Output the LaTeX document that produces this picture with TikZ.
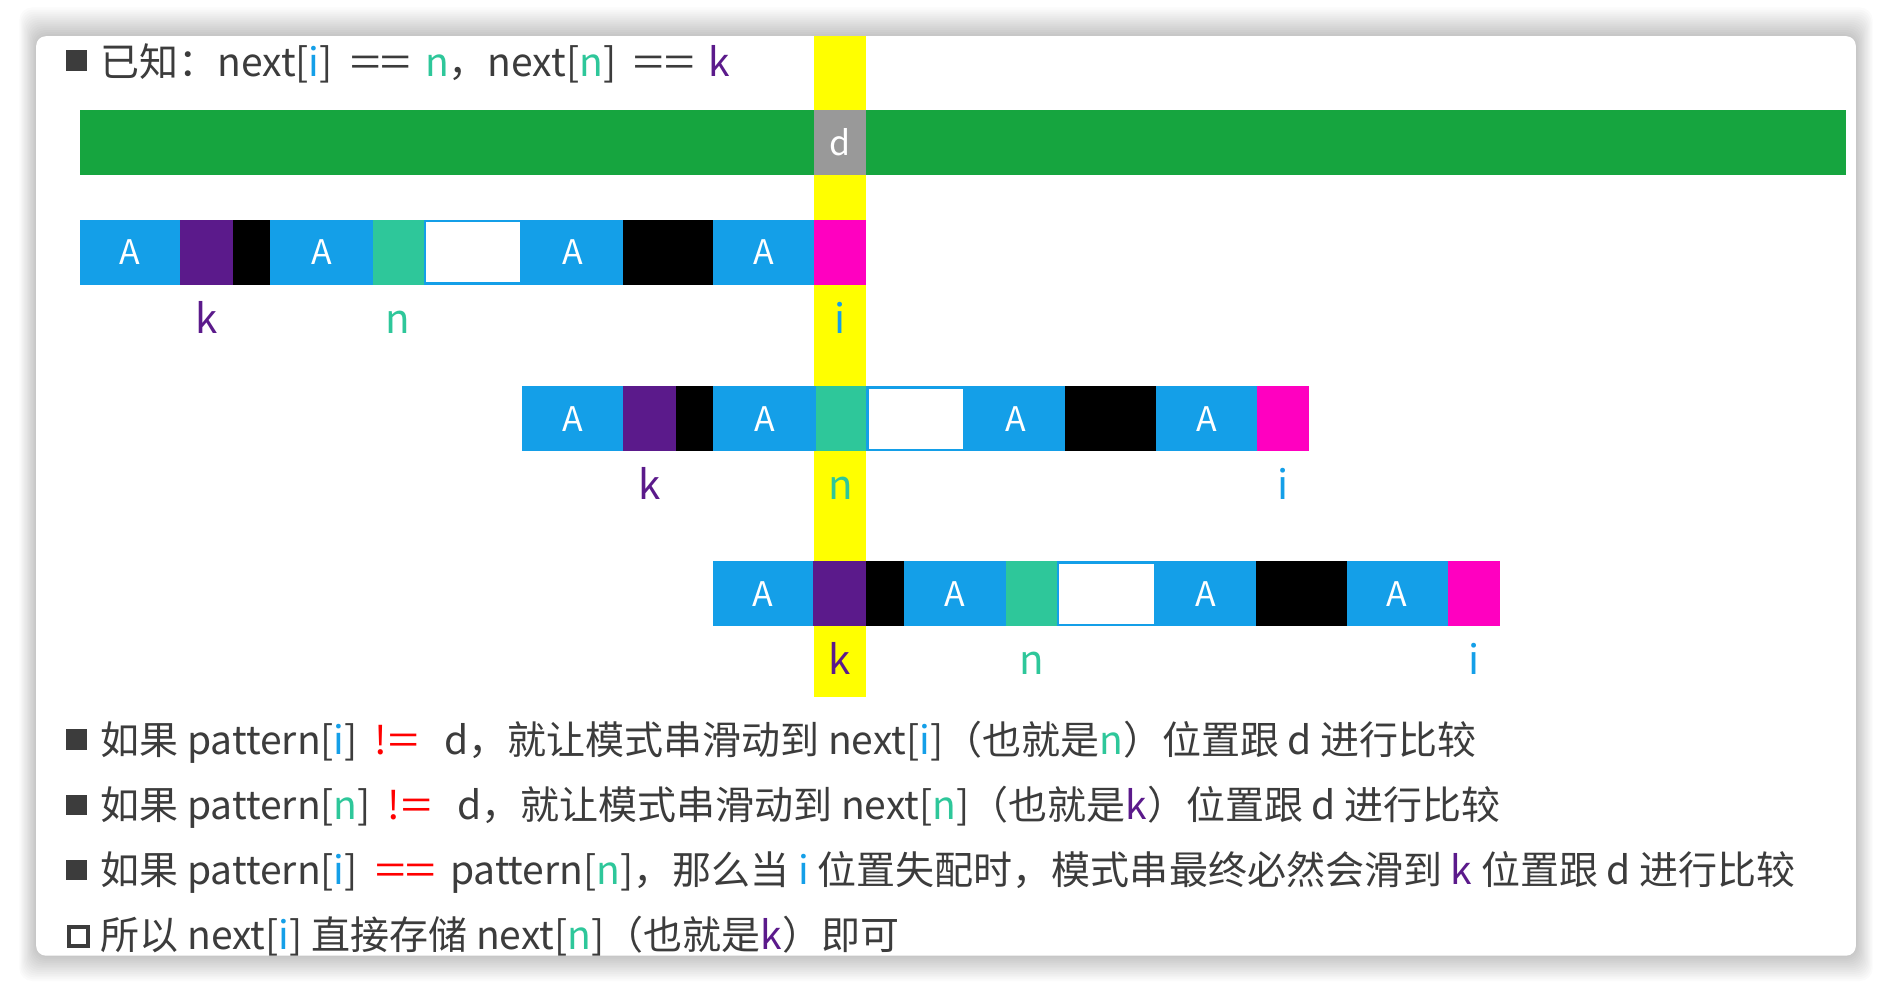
\documentclass[tikz,border=0pt]{standalone}
\usepackage{fontspec}
\setmainfont{Noto Sans CJK SC}

\definecolor{barGreen}{HTML}{16A53F}
\definecolor{cellBlue}{HTML}{149FE8}
\definecolor{cellPurple}{HTML}{5B1A8B}
\definecolor{cellTeal}{HTML}{2EC79A}
\definecolor{cellPink}{HTML}{FF00C0}
\definecolor{cellGray}{HTML}{999999}
\definecolor{hlYellow}{HTML}{FFFF00}
\definecolor{txtGray}{HTML}{3C3C3C}
\definecolor{opRed}{HTML}{FF0000}

\newcommand{\colI}{\textcolor{cellBlue}{i}}
\newcommand{\colN}{\textcolor{cellTeal}{n}}
\newcommand{\colK}{\textcolor{cellPurple}{k}}
\newcommand{\eqsign}{\scalebox{1.4}[1]{=}}
\newcommand{\opEq}{\hspace{0.45em}\eqsign\eqsign\hspace{0.36em}}
\newcommand{\opNe}{\hspace{0.42em}!\kern0.04em\eqsign\hspace{0.65em}}

\tikzset{
  cellA/.style={text=white, inner sep=0pt, font=\fontsize{16}{16}\selectfont},
  posLabel/.style={anchor=base, inner sep=0pt, font=\fontsize{19}{19}\selectfont},
  textline/.style={anchor=base west, inner sep=0pt, text=txtGray, font=\fontsize{18.4}{20}\selectfont},
  bulletbox/.style={fill=txtGray, minimum size=0.34cm, inner sep=0pt},
}

\begin{document}
\begin{tikzpicture}[x=0.02cm, y=-0.02cm]
\useasboundingbox (0,0) rectangle (1568,822);
\fill[white] (0,0) rectangle (1568,822);

% card with soft shadow
\foreach \s in {1,...,14}
  \fill[black, opacity=0.016, rounded corners=6pt] ({30-\s},{30-1.7*\s}) rectangle ({1538+\s},{792+1.5*\s});
\fill[white, rounded corners=4.5pt] (30,30) rectangle (1538,792);

% highlight column
\fill[hlYellow] (675,30) rectangle (718,578);

% main string
\fill[barGreen] (66,91) rectangle (1530,145);
\fill[cellGray] (675,91) rectangle (718,145);
\node[cellA] (d) at (696.5,118) {d};

% title
\node[bulletbox] (tb) at (63.5,50) {};
\node[textline] (title) at (83,63) {已知：next[\colI]\opEq\colN，next[\colN]\opEq\colK};

% pattern rows
\foreach \row/\dx/\yy in {1/0/182, 2/367/320, 3/525/465} {
  \foreach \a/\b/\c in {0/83/cellBlue, 83/127/cellPurple, 127/158/black, 158/243/cellBlue,
      243/285/cellTeal, 285/367/cellBlue, 367/450/cellBlue, 450/525/black,
      525/609/cellBlue, 609/652/cellPink}
    \fill[\c] ({66+\dx+\a},\yy) rectangle ({66+\dx+\b},{\yy+54});
  \fill[white] ({66+\dx+287},{\yy+2}) rectangle ({66+\dx+365},{\yy+52});
  \foreach \p [count=\j] in {41.5,200.5,408.5,567}
    \node[cellA] (A\row-\j) at ({66+\dx+\p},{\yy+27}) {A};
  \node[posLabel, text=cellPurple] (k\row) at ({66+\dx+105},{\yy+94}) {k};
  \node[posLabel, text=cellTeal] (n\row) at ({66+\dx+264},{\yy+94}) {n};
  \node[posLabel, text=cellBlue] (i\row) at ({66+\dx+630.5},{\yy+94}) {i};
}

% explanation
\node[bulletbox] (b1) at (63.5,613) {};
\node[textline] (l1) at (83,625) {如果 pattern[\colI]\textcolor{opRed}{\opNe}d，就让模式串滑动到 next[\colI]（也就是\colN）位置跟 d 进行比较};
\node[bulletbox] (b2) at (63.5,667) {};
\node[textline] (l2) at (83,679) {如果 pattern[\colN]\textcolor{opRed}{\opNe}d，就让模式串滑动到 next[\colN]（也就是\colK）位置跟 d 进行比较};
\node[bulletbox] (b3) at (63.5,721) {};
\node[textline] (l3) at (83,733) {如果 pattern[\colI]\textcolor{opRed}{\opEq}pattern[\colN]，那么当 \colI{} 位置失配时，模式串最终必然会滑到 \colK{} 位置跟 d 进行比较};
\node[bulletbox, fill=none, draw=txtGray, line width=1.7pt, minimum size=0.32cm] (b4) at (65,776) {};
\node[textline] (l4) at (83,787) {所以 next[\colI] 直接存储 next[\colN]（也就是\colK）即可};
\end{tikzpicture}
\end{document}
